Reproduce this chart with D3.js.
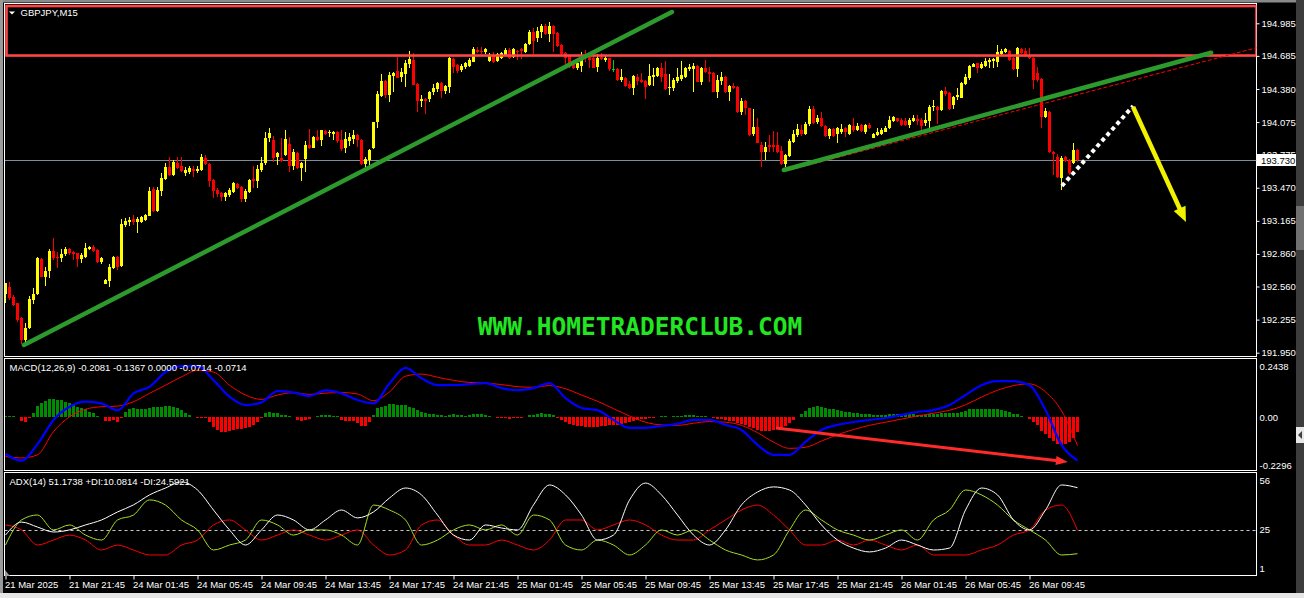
<!DOCTYPE html>
<html><head><meta charset="utf-8">
<script src="https://cdn.jsdelivr.net/npm/d3@7"></script>
<style>html,body{margin:0;padding:0;background:#000;overflow:hidden}svg{display:block}</style>
</head><body><svg id="c" width="1304" height="598"></svg>
<script>
// ---------------- DATA ----------------
const symbolTitle = "GBPJPY,M15";
const macdTitle = "MACD(12,26,9) -0.2081 -0.1367 0.0000 -0.0714 -0.0714";
const adxTitle = "ADX(14) 51.1738 +DI:10.0814 -DI:24.5921";
const lastPrice = 193.730;
const priceTicks = [194.985,194.685,194.380,194.075,193.775,193.470,193.165,192.860,192.560,192.255,191.950];
const macdTicks = [0.2438,0,-0.2296];
const macdTickText = ["0.2438","0.00","-0.2296"];
const adxTicks = [56,25,1];
const adxLevel = 25;
const timeLabels = ["21 Mar 2025","21 Mar 21:45","24 Mar 01:45","24 Mar 05:45","24 Mar 09:45","24 Mar 13:45","24 Mar 17:45","24 Mar 21:45","25 Mar 01:45","25 Mar 05:45","25 Mar 09:45","25 Mar 13:45","25 Mar 17:45","25 Mar 21:45","26 Mar 01:45","26 Mar 05:45","26 Mar 09:45"];
const timeLabelBars = [0,16,32,48,64,80,96,112,128,144,160,176,192,208,224,240,256];
// candles: [open, high, low, close], one per M15 bar
const ohlc = [
[192.491,192.595,192.405,192.589],[192.558,192.604,192.435,192.451],[192.466,192.482,192.380,192.389],[192.405,192.411,192.236,192.251],[192.267,192.282,192.030,192.067],
[192.067,192.220,192.030,192.174],[192.174,192.475,192.168,192.445],[192.435,192.543,192.399,192.491],[192.491,192.835,192.482,192.819],[192.813,192.819,192.644,192.650],
[192.650,192.743,192.568,192.706],[192.706,192.902,192.635,192.890],[192.887,193.010,192.804,192.819],[192.835,192.881,192.733,192.819],[192.819,192.902,192.789,192.859],
[192.856,192.921,192.841,192.905],[192.905,192.915,192.850,192.865],[192.881,192.887,192.804,192.859],[192.865,192.865,192.737,192.810],[192.810,192.865,192.780,192.847],
[192.835,192.964,192.819,192.918],[192.905,192.933,192.896,192.927],[192.927,192.945,192.878,192.887],[192.896,192.902,192.780,192.789],[192.789,192.835,192.764,192.819],
[192.583,192.626,192.580,192.623],[192.614,192.767,192.558,192.743],[192.733,192.841,192.718,192.829],[192.829,192.841,192.712,192.743],[192.749,193.182,192.743,193.136],
[193.127,193.188,193.111,193.163],[193.151,193.197,193.117,193.170],[193.179,193.219,193.123,193.157],[193.157,193.197,193.056,193.179],[193.157,193.209,193.142,193.197],
[193.173,193.228,193.163,193.219],[193.209,193.474,193.209,193.443],[193.455,193.474,193.249,193.259],[193.259,193.480,193.249,193.449],[193.443,193.603,193.394,193.563],
[193.547,193.695,193.541,193.664],[193.658,193.756,193.578,193.587],[193.587,193.725,193.578,193.704],[193.701,193.750,193.639,193.655],[193.670,193.750,193.618,193.624],
[193.603,193.664,193.578,193.633],[193.612,193.670,193.593,193.649],[193.646,193.670,193.572,193.627],[193.624,193.673,193.603,193.646],[193.633,193.778,193.627,193.756],
[193.741,193.772,193.679,193.689],[193.689,193.695,193.480,193.532],[193.541,193.547,193.372,193.440],[193.449,193.464,193.388,193.409],[193.425,193.434,193.348,193.388],
[193.382,193.434,193.348,193.418],[193.403,193.464,193.388,193.449],[193.428,193.526,193.418,193.510],[193.504,193.517,193.458,193.471],[193.480,193.489,193.342,193.366],
[193.363,193.455,193.342,193.443],[193.431,193.547,193.418,193.541],[193.547,193.670,193.464,193.535],[193.535,193.679,193.464,193.646],[193.633,193.756,193.618,193.695],
[193.698,193.983,193.679,193.928],[193.928,194.020,193.891,193.974],[193.910,193.950,193.710,193.747],[193.756,193.802,193.679,193.787],[193.747,193.925,193.710,193.716],
[193.772,194.002,193.765,193.919],[193.870,193.934,193.618,193.673],[193.673,193.824,193.633,193.802],[193.793,193.802,193.643,193.655],[193.655,193.710,193.535,193.695],
[193.735,193.901,193.618,193.864],[193.864,194.011,193.827,193.833],[193.839,193.950,193.833,193.940],[193.940,194.002,193.901,193.910],[193.910,194.002,193.854,194.002],
[193.993,194.002,193.956,193.962],[193.971,194.002,193.940,193.980],[193.968,193.996,193.910,193.983],[193.986,193.993,193.879,193.901],[193.910,194.002,193.808,193.827],
[193.839,193.986,193.793,193.919],[193.904,193.977,193.858,193.937],[193.919,194.002,193.870,193.956],[193.956,193.962,193.848,193.910],[193.910,193.919,193.679,193.686],
[193.692,193.756,193.655,193.732],[193.725,193.824,193.679,193.818],[193.833,194.079,193.827,194.073],[194.073,194.361,194.017,194.334],[194.318,194.515,194.309,194.453],
[194.453,194.459,194.300,194.324],[194.324,194.539,194.263,194.509],[194.499,194.539,194.355,194.530],[194.546,194.678,194.478,194.484],[194.493,194.570,194.447,194.533],
[194.515,194.647,194.401,194.622],[194.610,194.730,194.570,194.656],[194.647,194.708,194.417,194.417],[194.426,194.432,194.171,194.269],[194.269,194.324,194.217,194.284],
[194.288,194.294,194.149,194.269],[194.288,194.361,194.263,194.355],[194.349,194.426,194.324,194.386],[194.380,194.447,194.355,194.438],[194.435,194.447,194.294,194.361],
[194.361,194.417,194.334,194.410],[194.401,194.678,194.346,194.662],[194.656,194.668,194.524,194.585],[194.601,194.610,194.530,194.546],[194.555,194.607,194.539,194.595],
[194.585,194.632,194.564,194.616],[194.595,194.662,194.585,194.647],[194.632,194.770,194.625,194.748],[194.739,194.764,194.708,194.724],[194.733,194.764,194.702,194.724],
[194.724,194.761,194.702,194.745],[194.641,194.708,194.632,194.693],[194.693,194.724,194.622,194.632],[194.641,194.708,194.632,194.699],[194.662,194.717,194.653,194.708],
[194.693,194.761,194.684,194.739],[194.739,194.754,194.653,194.662],[194.671,194.754,194.662,194.745],[194.730,194.739,194.647,194.717],[194.745,194.761,194.656,194.730],
[194.724,194.800,194.714,194.794],[194.791,194.923,194.785,194.908],[194.908,194.939,194.699,194.825],[194.846,194.954,194.816,194.914],[194.902,194.975,194.853,194.960],
[194.960,194.975,194.877,194.886],[194.883,195.000,194.816,194.960],[194.960,194.969,194.718,194.886],[194.893,194.902,194.767,194.776],[194.785,194.791,194.687,194.699],
[194.711,194.718,194.585,194.662],[194.687,194.699,194.570,194.616],[194.632,194.647,194.564,194.576],[194.576,194.662,194.555,194.616],[194.595,194.724,194.533,194.662],
[194.693,194.739,194.632,194.662],[194.678,194.724,194.570,194.647],[194.662,194.693,194.570,194.576],[194.585,194.699,194.539,194.668],[194.678,194.708,194.647,194.653],
[194.647,194.693,194.632,194.668],[194.662,194.668,194.549,194.561],[194.564,194.647,194.539,194.564],[194.564,194.570,194.456,194.463],[194.463,194.561,194.447,194.490],
[194.484,194.493,194.401,194.410],[194.423,194.453,194.380,194.386],[194.392,194.509,194.324,194.499],[194.493,194.515,194.417,194.453],[194.463,194.524,194.432,194.441],
[194.453,194.463,194.288,194.401],[194.417,194.607,194.410,194.499],[194.493,194.570,194.410,194.509],[194.499,194.585,194.493,194.576],[194.570,194.616,194.447,194.493],
[194.515,194.638,194.371,194.380],[194.386,194.518,194.324,194.401],[194.392,194.478,194.361,194.463],[194.456,194.570,194.432,194.493],[194.469,194.638,194.453,194.509],
[194.493,194.585,194.484,194.570],[194.564,194.607,194.546,194.579],[194.564,194.622,194.355,194.592],[194.592,194.601,194.441,194.447],[194.441,194.585,194.417,194.576],
[194.576,194.647,194.524,194.533],[194.539,194.585,194.447,194.515],[194.524,194.533,194.349,194.355],[194.349,194.509,194.300,194.463],[194.453,194.533,194.417,194.493],
[194.493,194.499,194.346,194.349],[194.355,194.417,194.269,194.410],[194.410,194.432,194.380,194.386],[194.401,194.410,194.155,194.165],[194.165,194.294,194.140,194.269],
[194.269,194.278,194.140,194.202],[194.202,194.208,193.950,193.956],[193.962,194.195,193.950,194.033],[194.033,194.109,193.879,193.885],[193.864,193.894,193.664,193.802],
[193.796,193.888,193.725,193.848],[193.864,193.956,193.796,193.848],[193.864,193.993,193.802,193.848],[193.864,193.980,193.787,193.796],[193.808,193.858,193.679,193.689],
[193.689,193.778,193.664,193.772],[193.765,193.919,193.756,193.901],[193.888,194.002,193.879,193.965],[193.956,194.054,193.934,194.011],[194.002,194.048,193.950,193.962],
[193.962,194.073,193.956,194.057],[194.054,194.226,194.042,194.195],[194.195,194.226,194.054,194.063],[194.073,194.140,194.054,194.109],[194.109,194.165,194.033,194.042],
[194.042,194.048,193.940,193.950],[193.950,194.017,193.919,194.011],[194.011,194.017,193.940,193.950],[193.962,194.033,193.879,194.017],[193.980,194.054,193.962,194.011],
[194.023,194.033,193.940,193.986],[193.962,194.054,193.956,194.048],[194.042,194.109,193.986,194.002],[194.002,194.063,193.996,194.042],[194.048,194.054,193.986,193.996],
[193.986,194.054,193.962,194.048],[194.048,194.063,194.008,194.017],[193.931,193.974,193.925,193.965],[193.956,194.017,193.950,193.980],[193.962,194.017,193.956,194.002],
[193.986,194.042,193.980,194.023],[194.017,194.134,194.011,194.094],[194.085,194.134,194.073,194.125],[194.109,194.115,194.073,194.088],[194.094,194.115,194.042,194.048],
[194.088,194.115,194.042,194.048],[194.048,194.109,194.023,194.094],[194.085,194.140,194.073,194.109],[194.103,194.140,194.048,194.085],[194.094,194.109,194.002,194.042],
[194.063,194.155,194.042,194.094],[194.085,194.232,194.023,194.217],[194.217,194.278,194.177,194.226],[194.217,194.226,194.054,194.186],[194.186,194.370,194.177,194.361],
[194.361,194.401,194.318,194.331],[194.340,194.349,194.186,194.195],[194.232,194.315,194.195,194.309],[194.309,194.386,194.278,194.324],[194.300,194.447,194.294,194.438],
[194.426,194.515,194.417,194.493],[194.484,194.601,194.463,194.592],[194.585,194.622,194.579,194.610],[194.616,194.622,194.530,194.570],[194.570,194.631,194.561,194.607],
[194.595,194.662,194.585,194.641],[194.631,194.662,194.570,194.647],[194.638,194.668,194.570,194.656],[194.631,194.785,194.585,194.717],[194.702,194.748,194.687,194.733],
[194.717,194.760,194.708,194.748],[194.730,194.739,194.638,194.647],[194.662,194.677,194.555,194.564],[194.564,194.770,194.493,194.754],[194.748,194.760,194.702,194.708],
[194.730,194.754,194.677,194.687],[194.687,194.754,194.656,194.662],[194.668,194.677,194.380,194.463],[194.530,194.579,194.447,194.463],[194.472,194.484,194.023,194.125],
[194.125,194.208,194.109,194.177],[194.171,194.177,193.787,193.796],[193.802,193.808,193.587,193.778],[193.756,193.781,193.563,193.572],[193.557,193.765,193.449,193.747],
[193.756,193.765,193.704,193.716],[193.725,193.735,193.587,193.603],[193.695,193.885,193.686,193.818],[193.818,193.827,193.710,193.730]
];
// MACD main & signal, sampled every 4 bars (bar 0,4,...,268)
const macdStep = 4;
const macdMain = [-0.177,-0.209,-0.130,-0.014,0.049,0.073,0.065,0.032,0.113,0.144,0.215,0.243,0.243,0.176,0.097,0.057,0.070,0.124,0.117,0.101,0.127,0.113,0.081,0.065,0.160,0.235,0.185,0.152,0.152,0.157,0.162,0.138,0.128,0.138,0.162,0.090,0.043,0.033,-0.014,-0.052,-0.052,-0.043,-0.033,-0.014,-0.014,-0.038,-0.062,-0.133,-0.181,-0.181,-0.119,-0.062,-0.038,-0.024,-0.014,-0.005,0.010,0.024,0.033,0.057,0.105,0.152,0.171,0.171,0.152,0.033,-0.133,-0.208];
const macdSignal = [-0.189,-0.196,-0.181,-0.070,0.001,0.037,0.049,0.052,0.073,0.113,0.152,0.192,0.223,0.215,0.152,0.105,0.084,0.105,0.116,0.108,0.114,0.117,0.110,0.078,0.120,0.195,0.205,0.190,0.175,0.165,0.162,0.155,0.145,0.142,0.150,0.135,0.105,0.075,0.040,0.005,-0.025,-0.038,-0.040,-0.030,-0.022,-0.025,-0.040,-0.075,-0.120,-0.150,-0.145,-0.115,-0.085,-0.060,-0.040,-0.025,-0.010,0.005,0.018,0.032,0.058,0.095,0.128,0.150,0.158,0.120,0.030,-0.137];
// MACD histogram, one per bar
const macdHist = [
0.005,0.005,0.005,0.002,-0.017,-0.022,-0.003,0.017,0.052,0.065,
0.078,0.086,0.086,0.081,0.081,0.073,0.065,0.060,0.049,0.041,
0.036,0.025,0.017,0.006,0.001,-0.019,-0.019,-0.014,-0.022,-0.003,
0.025,0.036,0.041,0.036,0.036,0.036,0.041,0.046,0.046,0.049,
0.052,0.052,0.049,0.041,0.033,0.017,0.010,0.002,-0.003,-0.003,
-0.006,-0.022,-0.046,-0.062,-0.070,-0.070,-0.065,-0.062,-0.059,-0.059,
-0.054,-0.049,-0.038,-0.022,-0.003,0.017,0.025,0.021,0.017,0.010,
0.010,0.005,0.002,-0.014,-0.019,-0.014,-0.011,-0.002,0.005,0.010,
0.010,0.010,0.005,0.005,-0.014,-0.019,-0.019,-0.019,-0.030,-0.043,
-0.043,-0.022,0.010,0.041,0.046,0.052,0.062,0.062,0.057,0.058,
0.056,0.050,0.042,0.032,0.025,0.020,0.016,0.012,0.010,0.008,
0.006,0.010,0.012,0.010,0.008,0.007,0.008,0.012,0.013,0.012,
0.010,0.005,0.000,-0.004,-0.006,-0.006,-0.008,-0.006,-0.006,-0.004,
0.000,0.008,0.010,0.014,0.018,0.016,0.014,0.008,-0.004,-0.016,
-0.026,-0.034,-0.040,-0.044,-0.045,-0.046,-0.047,-0.048,-0.046,-0.044,
-0.042,-0.040,-0.038,-0.036,-0.034,-0.030,-0.026,-0.020,-0.015,-0.012,
-0.010,-0.005,-0.003,0.002,0.004,0.003,0.002,0.003,0.005,0.006,
0.008,0.009,0.009,0.006,0.004,0.003,0.000,-0.006,-0.008,-0.010,
-0.015,-0.018,-0.020,-0.028,-0.034,-0.040,-0.050,-0.054,-0.060,-0.065,
-0.066,-0.065,-0.062,-0.058,-0.055,-0.045,-0.030,-0.015,0.000,0.015,
0.030,0.045,0.050,0.052,0.050,0.045,0.040,0.036,0.032,0.028,
0.024,0.022,0.020,0.018,0.016,0.015,0.013,0.010,0.009,0.009,
0.010,0.012,0.014,0.014,0.013,0.012,0.012,0.012,0.011,0.010,
0.010,0.012,0.014,0.014,0.018,0.020,0.018,0.018,0.020,0.024,
0.030,0.036,0.040,0.040,0.040,0.040,0.038,0.036,0.036,0.034,
0.030,0.024,0.015,0.012,0.006,0.000,-0.008,-0.025,-0.040,-0.065,
-0.080,-0.100,-0.115,-0.130,-0.135,-0.130,-0.120,-0.100,-0.0714];
// ADX(14), +DI, -DI sampled every 4 bars
const adxStep = 4;
const adxMain = [21.7,29.8,26.7,23.6,24.9,28.0,31.1,36.1,40.5,46.7,51.0,54.8,49.8,37.3,24.9,15.5,24.9,34.2,31.1,24.9,31.1,37.3,32.4,36.1,44.8,51.0,46.7,34.2,21.7,18.6,28.0,26.1,24.9,40.5,52.9,46.7,34.2,18.6,21.7,43.5,54.1,46.7,34.2,21.7,15.5,24.9,40.5,48.5,51.7,49.8,40.5,28.0,18.6,13.6,11.2,13.6,18.6,15.5,12.4,13.6,37.3,51.0,46.7,31.1,24.9,37.3,52.9,51.2];
const plusDI = [15.5,31.1,34.2,24.9,28.0,21.7,18.6,31.1,34.2,43.6,40.4,31.1,24.9,12.4,15.5,18.6,31.1,28.0,21.7,24.9,24.9,21.7,15.5,40.4,37.3,31.1,15.5,18.6,24.9,28.0,24.9,28.0,21.7,34.2,31.1,15.5,12.4,18.6,15.5,9.3,15.5,24.9,21.7,24.9,18.6,12.4,9.3,6.2,9.3,24.9,37.3,31.1,24.9,21.7,18.6,21.7,24.9,18.6,31.1,37.3,49.8,46.7,40.4,31.1,24.9,18.6,9.3,10.1];
const minusDI = [28.0,24.9,15.5,18.6,21.7,18.6,12.4,15.5,12.4,9.3,9.3,15.5,18.6,28.0,31.1,24.9,18.6,21.7,24.9,21.7,18.6,21.7,24.9,15.5,9.3,12.4,28.0,31.1,21.7,15.5,15.5,18.6,15.5,12.4,18.6,31.1,31.1,24.9,28.0,31.1,28.0,21.7,18.6,18.6,24.9,31.1,37.3,40.4,34.2,24.9,15.5,15.5,18.6,15.5,18.6,15.5,12.4,15.5,9.3,9.3,9.3,12.4,15.5,21.7,24.9,37.3,40.4,24.6];
// hand-drawn objects, in (bar index, price/value) coordinates
const zoneRect = {bar0:0.25, bar1:312.75, pTop:195.144, pBot:194.688};
const trendUp = [[4.6,192.021],[166.6,195.089]];
const trendUp2 = [[194.6,193.633],[301.4,194.714]];
const trendRedDash = [[196.1,193.633],[312.8,194.760]];
const whiteDotted = [[264.1,193.486],[281.9,194.223]];
const yellowArrow = [[281.9,194.214],[295.1,193.154]];
const macdArrow = [[192.6,-0.0526],[265.6,-0.215]];
const watermark = "WWW.HOMETRADERCLUB.COM";

// ---------------- LAYOUT ----------------
const FONT = '"Liberation Sans", Arial, sans-serif';
const FS = 9.5;
const L = 4.5, R = 1256.5;
const svg = d3.select('#c');
svg.append('rect').attr('width',1304).attr('height',598).attr('fill','#000');

const x = d3.scaleLinear().domain([0,312]).range([5.5,1253.5]);
const y = d3.scaleLinear().domain([191.950,194.985]).range([352.7,23.3]);
const ym = d3.scaleLinear().domain([-0.2296,0.2438]).range([465,366]);
const ya = d3.scaleLinear().domain([1,56]).range([568.3,480]);

const defs = svg.append('defs');
function clip(id,y0,y1){defs.append('clipPath').attr('id',id).append('rect').attr('x',5).attr('y',y0).attr('width',R-5).attr('height',y1-y0);}
clip('cMain',4,356); clip('cMacd',359,470); clip('cAdx',473,575);

// window chrome
svg.append('rect').attr('x',0).attr('y',0).attr('width',1304).attr('height',2.5).attr('fill','#8a8a8a');
svg.append('rect').attr('x',0).attr('y',0).attr('width',3).attr('height',598).attr('fill','#9a9a9a');
svg.append('rect').attr('x',1296).attr('y',0).attr('width',8).attr('height',598).attr('fill','#3c3c3c');
svg.append('rect').attr('x',1296).attr('y',206).attr('width',8).attr('height',44).attr('fill','#707070');
svg.append('rect').attr('x',1296).attr('y',427).attr('width',8).attr('height',16).attr('fill','#e8e8e8');
svg.append('path').attr('d','M1302,431 L1298,435 L1302,439 Z').attr('fill','#404040');
svg.append('rect').attr('x',0).attr('y',593).attr('width',1304).attr('height',5).attr('fill','#e6e6e6');

// pane frames
[[3.5,356.5],[358.5,470.5],[472.5,575.5]].forEach(p=>{
  svg.append('rect').attr('x',L).attr('y',p[0]).attr('width',R-L).attr('height',p[1]-p[0])
    .attr('fill','none').attr('stroke','#fff').attr('stroke-width',1).attr('shape-rendering','crispEdges');
});

// ---------- main pane ----------
const gMain = svg.append('g').attr('clip-path','url(#cMain)');
// bid line
gMain.append('line').attr('x1',L).attr('x2',R).attr('y1',Math.round(y(lastPrice))+0.5).attr('y2',Math.round(y(lastPrice))+0.5)
  .attr('stroke','#7f8c99').attr('stroke-width',1);

const colorOf = d => d[3]>d[0] ? '#ffff00' : (d[3]<d[0] ? '#ff0000' : '#00d000');
const cg = gMain.append('g').attr('shape-rendering','crispEdges');
cg.selectAll('line.w').data(ohlc).join('line').attr('class','w')
  .attr('x1',(d,i)=>Math.floor(x(i))+0.5).attr('x2',(d,i)=>Math.floor(x(i))+0.5)
  .attr('y1',d=>y(d[1])).attr('y2',d=>y(d[2])).attr('stroke',colorOf);
cg.selectAll('rect.b').data(ohlc).join('rect').attr('class','b')
  .attr('x',(d,i)=>Math.floor(x(i))-1).attr('width',3)
  .attr('y',d=>y(Math.max(d[0],d[3])))
  .attr('height',d=>Math.max(1,Math.abs(y(d[0])-y(d[3]))))
  .attr('fill',colorOf);

// watermark
svg.append('text').attr('x',640).attr('y',335).attr('text-anchor','middle')
  .attr('font-family','"DejaVu Sans Mono", "Liberation Mono", monospace').attr('font-weight','bold')
  .attr('font-size',24.5).attr('fill','#22e622').text(watermark);

// hand drawn objects
gMain.append('rect').attr('x',x(zoneRect.bar0)).attr('y',y(zoneRect.pTop))
  .attr('width',x(zoneRect.bar1)-x(zoneRect.bar0)).attr('height',y(zoneRect.pBot)-y(zoneRect.pTop))
  .attr('fill','none').attr('stroke','#ff4646').attr('stroke-width',2.6);
const seg = (g,pts,sx,sy)=>g.append('line').attr('x1',sx(pts[0][0])).attr('y1',sy(pts[0][1])).attr('x2',sx(pts[1][0])).attr('y2',sy(pts[1][1]));
seg(gMain,trendRedDash,x,y).attr('stroke','#ff0000').attr('stroke-width',1).attr('stroke-dasharray','4,2');
seg(gMain,trendUp,x,y).attr('stroke','#2c9a2c').attr('stroke-width',4.5).attr('stroke-linecap','round');
seg(gMain,trendUp2,x,y).attr('stroke','#2c9a2c').attr('stroke-width',4.5).attr('stroke-linecap','round');
seg(gMain,whiteDotted,x,y).attr('stroke','#ffffff').attr('stroke-width',4).attr('stroke-dasharray','4,3.5');

function arrow(g,pts,sx,sy,color,w,headL,headW){
  const x0=sx(pts[0][0]),y0=sy(pts[0][1]),x1=sx(pts[1][0]),y1=sy(pts[1][1]);
  const dx=x1-x0,dy=y1-y0,len=Math.hypot(dx,dy),ux=dx/len,uy=dy/len;
  const bx=x1-ux*headL,by=y1-uy*headL;
  g.append('line').attr('x1',x0).attr('y1',y0).attr('x2',bx+ux*2).attr('y2',by+uy*2).attr('stroke',color).attr('stroke-width',w);
  g.append('path').attr('d',`M${x1},${y1}L${bx-uy*headW/2},${by+ux*headW/2}L${bx+uy*headW/2},${by-ux*headW/2}Z`).attr('fill',color);
}
arrow(gMain,yellowArrow,x,y,'#f2f200',4.5,15,13);

// price axis
const pAx = svg.append('g').attr('transform',`translate(${R},0)`)
  .call(d3.axisRight(y).tickValues(priceTicks).tickSize(3).tickPadding(2).tickFormat(d3.format('.3f')));
pAx.select('.domain').remove();
pAx.selectAll('line').attr('stroke','#fff');
pAx.selectAll('text').attr('fill','#fff').attr('font-family',FONT).attr('font-size',FS);
// last price label (covers the 193.775 tick label, as in the terminal)
const yp = Math.round(y(lastPrice));
svg.append('rect').attr('x',1257).attr('y',yp-6).attr('width',39).attr('height',12).attr('fill','#fff');
svg.append('text').attr('x',1261).attr('y',yp+3.5).attr('fill','#000').attr('font-family',FONT).attr('font-size',FS).text(d3.format('.3f')(lastPrice));

// title
svg.append('path').attr('d','M9,11.5 L15,11.5 L12,14.5 Z').attr('fill','#fff');
svg.append('text').attr('x',20.5).attr('y',16).attr('fill','#fff').attr('font-family',FONT).attr('font-size',FS).text(symbolTitle);

// ---------- MACD pane ----------
const gM = svg.append('g').attr('clip-path','url(#cMacd)');
gM.append('g').attr('shape-rendering','crispEdges').selectAll('rect').data(macdHist).join('rect')
  .attr('x',(d,i)=>Math.floor(x(i))-1).attr('width',3)
  .attr('y',d=>Math.min(ym(d),ym(0))).attr('height',d=>Math.abs(ym(d)-ym(0)))
  .attr('fill',d=>d>=0?'#008c00':'#ff0000');
const lm = d3.line().x((d,i)=>x(i*macdStep)).y(d=>ym(d)).curve(d3.curveMonotoneX);
gM.append('path').datum(macdSignal).attr('d',lm).attr('fill','none').attr('stroke','#ff0000').attr('stroke-width',1);
gM.append('path').datum(macdMain).attr('d',lm).attr('fill','none').attr('stroke','#0000ff').attr('stroke-width',2.2);
arrow(gM,macdArrow,x,ym,'#ff2a2a',3,12,9);
const mAx = svg.append('g').attr('transform',`translate(${R},0)`)
  .call(d3.axisRight(ym).tickValues(macdTicks).tickSize(0).tickPadding(3).tickFormat((d,i)=>macdTickText[i]));
mAx.select('.domain').remove();
mAx.selectAll('text').attr('fill','#fff').attr('font-family',FONT).attr('font-size',FS);
svg.append('text').attr('x',9.5).attr('y',371).attr('fill','#fff').attr('font-family',FONT).attr('font-size',FS).text(macdTitle);

// ---------- ADX pane ----------
const gA = svg.append('g').attr('clip-path','url(#cAdx)');
gA.append('line').attr('x1',L).attr('x2',R).attr('y1',Math.round(ya(adxLevel))+0.5).attr('y2',Math.round(ya(adxLevel))+0.5)
  .attr('stroke','#c8c8c8').attr('stroke-dasharray','3,3');
const la = d3.line().x((d,i)=>x(i*adxStep)).y(d=>ya(d)).curve(d3.curveMonotoneX);
gA.append('path').datum(minusDI).attr('d',la).attr('fill','none').attr('stroke','#ff0000').attr('stroke-width',1);
gA.append('path').datum(plusDI).attr('d',la).attr('fill','none').attr('stroke','#a6e022').attr('stroke-width',1);
gA.append('path').datum(adxMain).attr('d',la).attr('fill','none').attr('stroke','#ffffff').attr('stroke-width',1);
const aAx = svg.append('g').attr('transform',`translate(${R},0)`)
  .call(d3.axisRight(ya).tickValues(adxTicks).tickSize(0).tickPadding(3).tickFormat(d3.format('d')));
aAx.select('.domain').remove();
aAx.selectAll('text').attr('fill','#fff').attr('font-family',FONT).attr('font-size',FS);
svg.append('text').attr('x',9.5).attr('y',484.5).attr('fill','#fff').attr('font-family',FONT).attr('font-size',FS).text(adxTitle);

// ---------- time axis ----------
const tAx = svg.append('g').attr('transform','translate(0,575.5)')
  .call(d3.axisBottom(x).tickValues(timeLabelBars).tickSize(4).tickFormat((d,i)=>timeLabels[i]));
tAx.select('.domain').remove();
tAx.selectAll('line').attr('stroke','#fff');
tAx.selectAll('text').attr('fill','#fff').attr('font-family',FONT).attr('font-size',FS)
  .attr('text-anchor','start').attr('x',-1).attr('y',6).attr('dy','0.71em');
svg.append('path').attr('d','M5,570 L5,576 L10,576 Z').attr('fill','#9a9a9a');
</script></body></html>
